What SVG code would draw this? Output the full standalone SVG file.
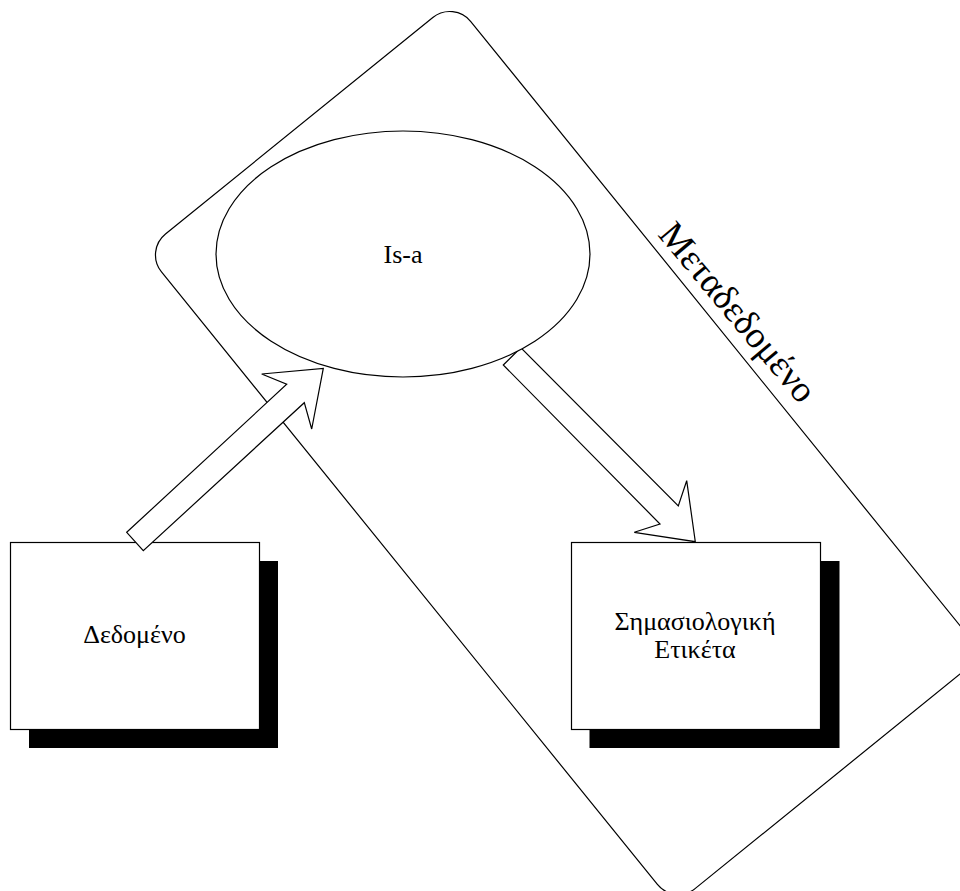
<svg xmlns="http://www.w3.org/2000/svg" width="960" height="891" viewBox="0 0 960 891">
<style>
.ln{fill:none;stroke:#000;stroke-width:1.2}
.wf{fill:#fff;stroke:#000;stroke-width:1.2}
.sh{fill:#000;stroke:none}
.t{font-family:"Liberation Serif","Times New Roman",serif;font-size:26px;fill:#000}
</style>
<rect width="960" height="891" fill="#fff"/>
<g id="metadata-frame">
<rect class="ln" x="0" y="-398" width="842" height="398" rx="27" ry="27" transform="translate(144.5 251) rotate(51)"/>
<text class="t" style="font-size:37px" transform="translate(657 235) rotate(50)">Μεταδεδομένο</text>
</g>
<g id="node-data">
<rect class="sh" x="29" y="561" width="249" height="187"/>
<rect class="wf" x="10.5" y="542.5" width="249" height="187"/>
<text class="t" x="134.5" y="643" text-anchor="middle">Δεδομένο</text>
</g>
<g id="node-label">
<rect class="sh" x="589.5" y="561" width="250" height="187"/>
<rect class="wf" x="571.5" y="542.5" width="249" height="187"/>
<text class="t" x="695" y="630" text-anchor="middle">Σημασιολογική</text>
<text class="t" x="695" y="658" text-anchor="middle">Ετικέτα</text>
</g>
<g id="connectors">
<polygon id="arrow-isa-label" class="wf" points="503.3,365 520.7,347.7 678.3,506 686.7,480.7 695.3,541.7 634.3,532.3 660,524"/>
</g>
<g id="node-isa">
<ellipse class="wf" cx="403" cy="254" rx="187" ry="123"/>
<text class="t" x="403" y="263" text-anchor="middle">Is-a</text>
</g>
<g id="connectors-2">
<polygon id="arrow-data-isa" class="wf" points="126.7,532.3 286.7,384.3 261.7,374 323.3,368.3 311.7,429 304.3,402.7 143.3,550.7"/>
</g>
</svg>
